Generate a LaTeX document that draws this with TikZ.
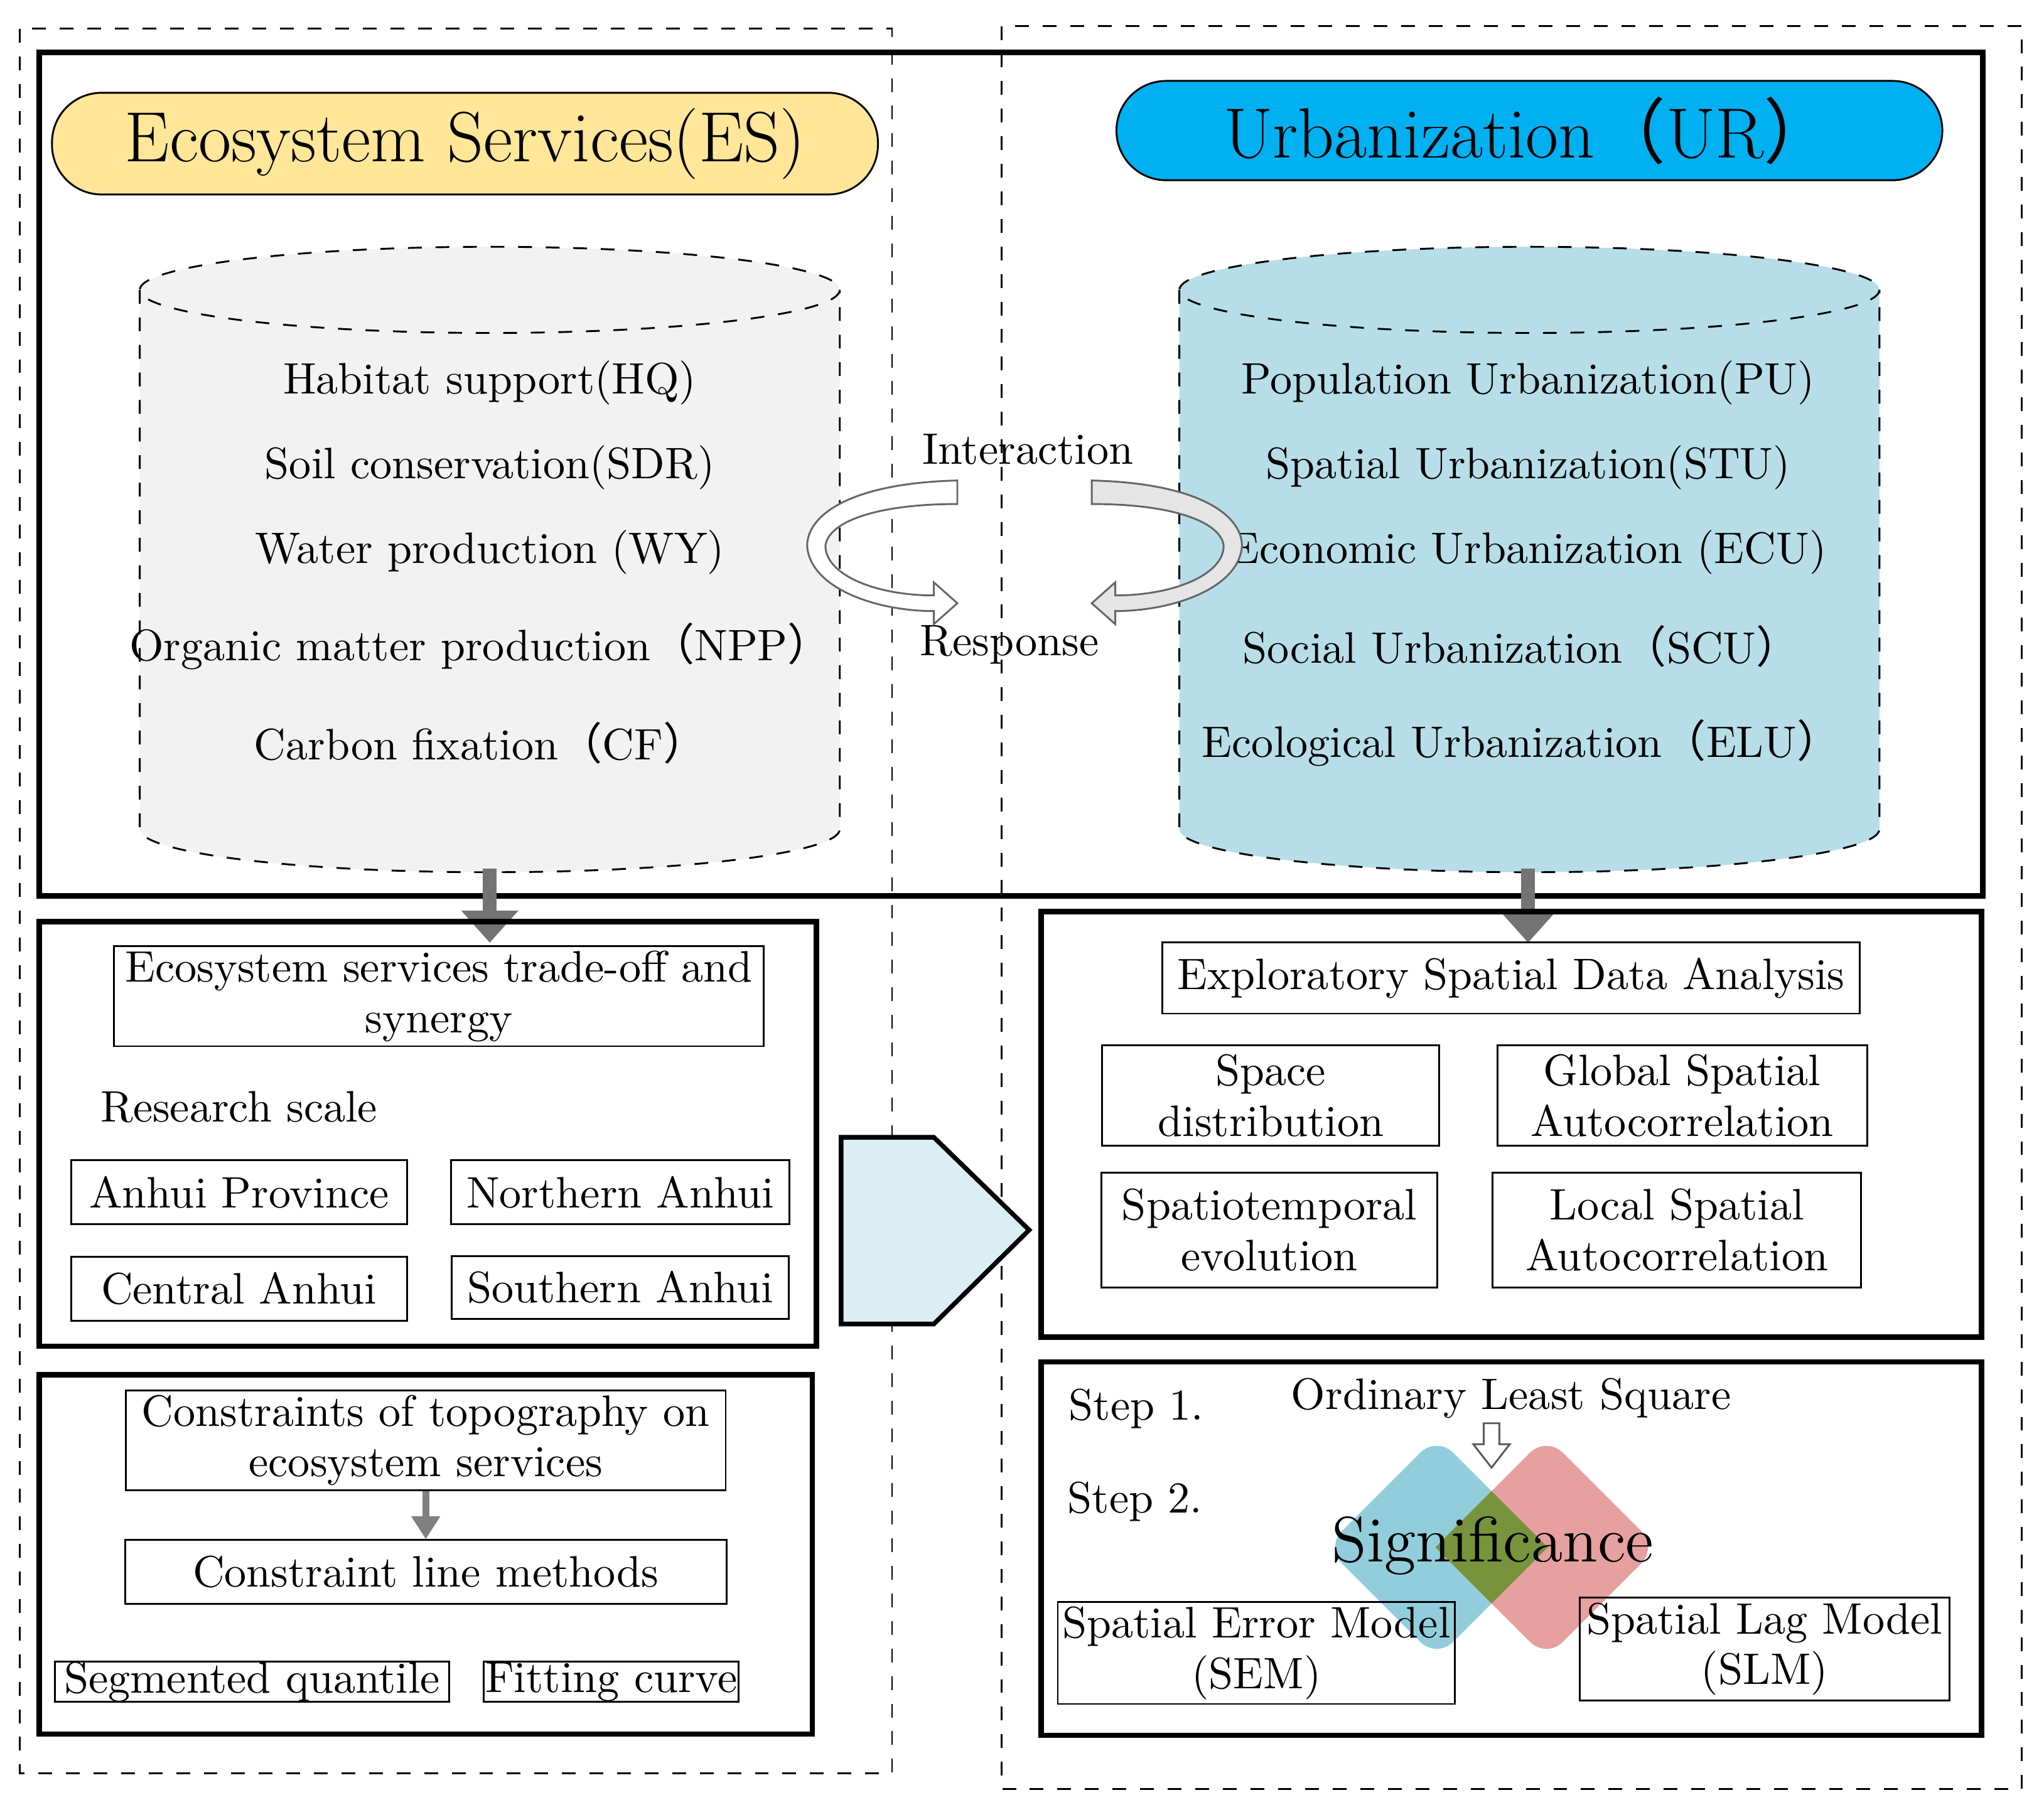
\documentclass[tikz,border=0pt]{standalone}
\usepackage{fontspec}
\newfontfamily\cjk{Noto Sans CJK SC}
\usetikzlibrary{arrows.meta}
\definecolor{esyellow}{HTML}{FFE699}
\definecolor{urblue}{HTML}{00B0F0}
\definecolor{cylgray}{HTML}{F2F2F2}
\definecolor{cylblue}{HTML}{B7DEE8}
\definecolor{penta}{HTML}{DAEEF3}
\definecolor{dblue}{HTML}{92CDDC}
\definecolor{dred}{HTML}{E6A09F}
\definecolor{dolive}{HTML}{77933C}
\newcommand{\lp}{{\cjk （}}
\newcommand{\rp}{{\cjk ）}}
\begin{document}
\begin{tikzpicture}[x=0.01cm,y=-0.01cm,
  txt/.style={font=\fontsize{9.6}{11}\selectfont,align=center},
  sbox/.style={draw,thin,txt},
  frame/.style={draw,line width=1.2pt},
  dframe/.style={draw,dashed,thin},
  garrow/.style={draw=gray!90!black,line width=3pt,-{Triangle[length=7pt,width=12pt]}}]
\useasboundingbox (0,0) rectangle (1565,1382);
% dashed outer frames
\draw[dframe] (15,22) rectangle (683,1358);
\draw[dframe] (767,20) rectangle (1548,1370);
% top frame
\draw[frame] (30,40) rectangle (1518,686);
% titles
\node[draw,fill=esyellow,minimum width=6.32cm,minimum height=0.76cm,
  font=\fontsize{15.5}{18}\selectfont,rounded corners=0.38cm] (es) at (356,110) {Ecosystem Services(ES)};
\node[draw,fill=urblue,minimum width=6.32cm,minimum height=0.76cm,
  font=\fontsize{15.5}{18}\selectfont,rounded corners=0.38cm] (ur) at (1171,100) {Urbanization\lp UR\rp};
% cylinders
\foreach \cx/\col in {375/cylgray,1171/cylblue}{
  \fill[\col] (\cx-268,222) -- (\cx-268,635) arc[start angle=180,end angle=360,x radius=268,y radius=-33]
    -- (\cx+268,222) arc[start angle=0,end angle=180,x radius=268,y radius=-33] -- cycle;
  \draw[dashed] (\cx,222) ellipse[x radius=268,y radius=33];
  \draw[dashed] (\cx-268,222) -- (\cx-268,635) arc[start angle=180,end angle=360,x radius=268,y radius=-33] -- (\cx+268,222);
}
\node[txt] (h1) at (375,293) {Habitat support(HQ)};
\node[txt] (h2) at (375,358) {Soil conservation(SDR)};
\node[txt] (h3) at (375,423) {Water production (WY)};
\node[txt] (h4) at (368,495) {Organic matter production\lp NPP\rp};
\node[txt] (h5) at (368,569) {Carbon fixation\lp CF\rp};
\node[txt] (u1) at (1170,293) {Population Urbanization(PU)};
\node[txt] (u2) at (1170,358) {Spatial Urbanization(STU)};
\node[txt] (u3) at (1170,423) {Economic Urbanization (ECU)};
\node[txt] (u4) at (1165,495) {Social Urbanization\lp SCU\rp};
\node[txt] (u5) at (1165,569) {Ecological Urbanization\lp ELU\rp};
% interaction arrows
\node[txt] (int) at (787,344) {Interaction};
\node[txt] (res) at (773,494) {Response};
\def\curvearrow{(733,368) .. controls (650,370) and (618,395) .. (618,418)
  .. controls (620,450) and (670,468) .. (715,468) -- (715,478) -- (733,462) -- (715,446) -- (715,456)
  .. controls (670,456) and (632,440) .. (632,418) .. controls (634,400) and (670,386) .. (733,386) -- cycle}
\filldraw[draw=gray!80!black,fill=white] \curvearrow;
\begin{scope}[xshift=15.68cm,xscale=-1]
\filldraw[draw=gray!80!black,fill=gray!20] \curvearrow;
\end{scope}
% down arrows
\coordinate (a1) at (375,665); \coordinate (a2) at (375,722);
\coordinate (b1) at (1170,665); \coordinate (b2) at (1170,722);
\draw[garrow] (a1) -- (a2);
\draw[garrow] (b1) -- (b2);
% left middle
\draw[frame] (30,706) rectangle (625,1031);
\node[sbox,minimum width=4.97cm,minimum height=0.76cm,inner sep=1pt] (tos) at (336,763) {Ecosystem services trade-off and\\synergy};
\node[txt] (rs) at (183,848) {Research scale};
\node[sbox,minimum width=2.57cm,minimum height=0.49cm] (ah) at (183,913) {Anhui Province};
\node[sbox,minimum width=2.57cm,minimum height=0.49cm] (na) at (475,913) {Northern Anhui};
\node[sbox,minimum width=2.57cm,minimum height=0.49cm] (ca) at (183,987) {Central Anhui};
\node[sbox,minimum width=2.57cm,minimum height=0.47cm] (sa) at (475,986) {Southern Anhui};
% left bottom
\draw[frame] (30,1053) rectangle (622,1328);
\node[sbox,minimum width=4.59cm,minimum height=0.76cm,inner sep=1pt] (ct) at (326,1103) {Constraints of topography on\\ecosystem services};
\node[sbox,minimum width=4.6cm,minimum height=0.49cm] (cl) at (326,1204) {Constraint line methods};
\draw[draw=gray,line width=1.5pt,-{Triangle[length=5pt,width=6pt]}] (ct) -- (cl);
\node[sbox,minimum width=3.02cm,minimum height=0.31cm,inner sep=0pt] (sq) at (193,1288) {Segmented quantile};
\node[sbox,minimum width=1.95cm,minimum height=0.31cm,inner sep=0pt] (fc) at (468,1288) {Fitting curve};
% pentagon
\filldraw[fill=penta,line width=1pt] (644,871) -- (715,871) -- (788,942) -- (715,1014) -- (644,1014) -- cycle;
% right middle
\draw[frame] (797,698) rectangle (1517,1024);
\node[sbox,minimum width=4.98cm,minimum height=0.48cm] (esda) at (1157,749) {Exploratory Spatial Data Analysis};
\node[sbox,minimum width=2.58cm,minimum height=0.77cm,inner sep=1pt] (sd) at (973,839) {Space\\distribution};
\node[sbox,minimum width=2.83cm,minimum height=0.77cm,inner sep=1pt] (gs) at (1288,839) {Global Spatial\\Autocorrelation};
\node[sbox,minimum width=2.57cm,minimum height=0.88cm,inner sep=1pt] (st) at (972,942) {Spatiotemporal\\evolution};
\node[sbox,minimum width=2.82cm,minimum height=0.88cm,inner sep=1pt] (ls) at (1284,942) {Local Spatial\\Autocorrelation};
% right bottom
\draw[frame] (797,1043) rectangle (1517,1329);
\node[txt] (s1) at (870,1079) {Step 1.};
\node[txt] (s2) at (869,1150) {Step 2.};
\node[txt] (ols) at (1157,1071) {Ordinary Least Square};
\def\bluediam{(1100,1100) -- (1185,1185) -- (1100,1270) -- (1015,1185) -- cycle}
\def\reddiam{(1184,1100) -- (1269,1185) -- (1184,1270) -- (1099,1185) -- cycle}
\fill[dblue,rounded corners=5] \bluediam;
\fill[dred,rounded corners=5] \reddiam;
\begin{scope}
\clip \bluediam;
\fill[dolive] \reddiam;
\end{scope}
\filldraw[draw=gray!70!black,fill=white] (1136,1090) -- (1148,1090) -- (1148,1106) -- (1156,1106)
  -- (1142,1124) -- (1128,1106) -- (1136,1106) -- cycle;
\node[font=\fontsize{14}{17}\selectfont] (sig) at (1143,1184) {Significance};
\node[sbox,minimum width=3.02cm,minimum height=0.76cm,inner sep=1pt] (sem) at (962,1266) {Spatial Error Model\\(SEM)};
\node[sbox,minimum width=2.83cm,minimum height=0.79cm,inner sep=1pt] (slm) at (1351,1263) {Spatial Lag Model\\(SLM)};
\end{tikzpicture}
\end{document}
